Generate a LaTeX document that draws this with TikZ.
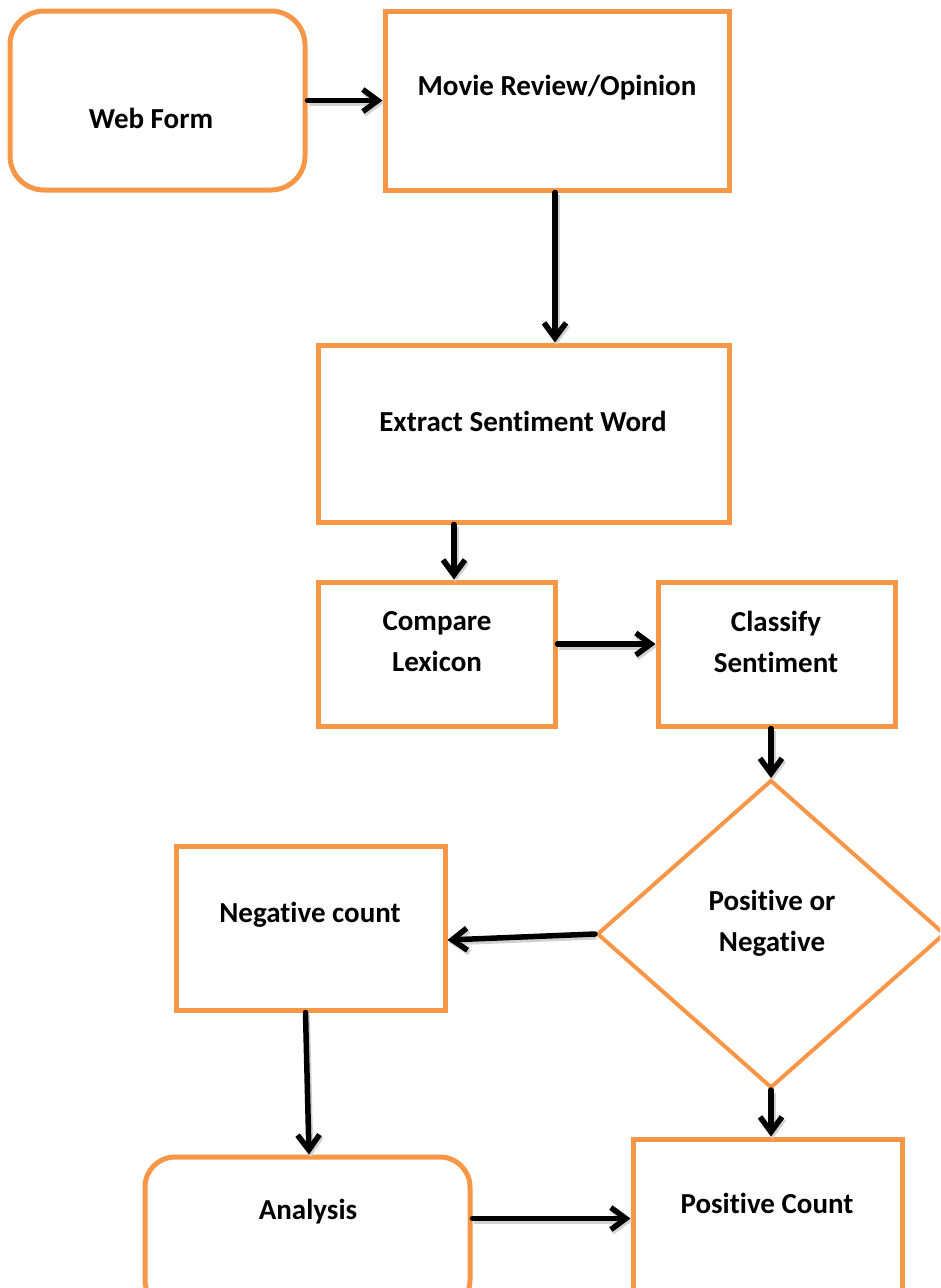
\documentclass[tikz,border=0pt]{standalone}
\usepackage{fontspec}
\setmainfont[Ligatures={NoCommon,NoRare},Contextuals=NoAlternate]{Carlito}
\usetikzlibrary{arrows.meta,shapes.geometric,calc}
\definecolor{accent}{HTML}{F79646}
\begin{document}
\begin{tikzpicture}[x=1pt,y=-1pt,
  box/.style={draw=accent, line width=5pt, inner sep=0pt},
  roundbox/.style={box, rounded corners=34pt},
  decision/.style={diamond, draw=accent, line width=4pt, inner sep=0pt},
  caption/.style={font=\fontsize{29}{41}\selectfont\bfseries, align=center, inner sep=0pt},
  conn/.style={line width=5.5pt, line cap=round,
    -{Straight Barb[length=15pt,width=22pt]},
    preaction={draw=black!18, line width=6pt, transform canvas={shift={(1.5pt,-2.5pt)}}}}
]
\useasboundingbox (0,0) rectangle (940,1288);
\clip (0,0) rectangle (940,1288);

% process shapes
\node[roundbox, minimum width=295, minimum height=179] (web) at (157.5,100.5) {};
\node[box, minimum width=344, minimum height=179] (movie) at (557,100.5) {};
\node[box, minimum width=411, minimum height=177] (extract) at (523.5,433.5) {};
\node[box, minimum width=237, minimum height=144] (compare) at (436.5,654) {};
\node[box, minimum width=237, minimum height=144] (classify) at (776.5,654) {};
\node[decision, minimum width=348, minimum height=308] (decide) at (771,934) {};
\node[box, minimum width=269, minimum height=164] (negative) at (310.5,928) {};
\node[roundbox, rounded corners=30pt, minimum width=325, minimum height=153] (analysis) at (307.5,1233.5) {};
\node[box, minimum width=269, minimum height=171] (positive) at (767.5,1224.5) {};

% captions
\node[caption] (tweb) at (151,118) {Web Form};
\node[caption] (tmovie) at (557,88) {Movie Review/Opinion};
\node[caption] (textract) at (523,421) {Extract Sentiment Word};
\node[caption] (tcompare) at (437,642) {Compare\\Lexicon};
\node[caption] (tclassify) at (776,642) {Classify\\Sentiment};
\node[caption] (tdecide) at (772,923) {Positive or\\Negative};
\node[caption] (tnegative) at (310,915) {Negative count};
\node[caption] (tanalysis) at (308,1212) {Analysis};
\node[caption] (tpositive) at (767,1203) {Positive Count};

% connectors
\draw[conn] (web.east) -- (movie.west);
\draw[conn] ([xshift=-2pt]movie.south) -- ([xshift=-2pt]movie.south |- extract.north);
\draw[conn] ([xshift=-69.5pt]extract.south) -- ([xshift=-69.5pt]extract.south |- compare.north);
\draw[conn] ([yshift=10pt]compare.east) -- ([yshift=10pt]compare.east -| classify.west);
\draw[conn] (classify.south -| decide.north) -- (decide.north);
\draw[conn] (decide.west) -- ([yshift=-12pt]negative.east);
\draw[conn] ([xshift=-5pt]negative.south) -- ([xshift=1.5pt]analysis.north);
\draw[conn] (decide.south) -- (decide.south |- positive.north);
\draw[conn] ([yshift=15pt]analysis.east) -- ([yshift=15pt]analysis.east -| positive.west);
\end{tikzpicture}
\end{document}
